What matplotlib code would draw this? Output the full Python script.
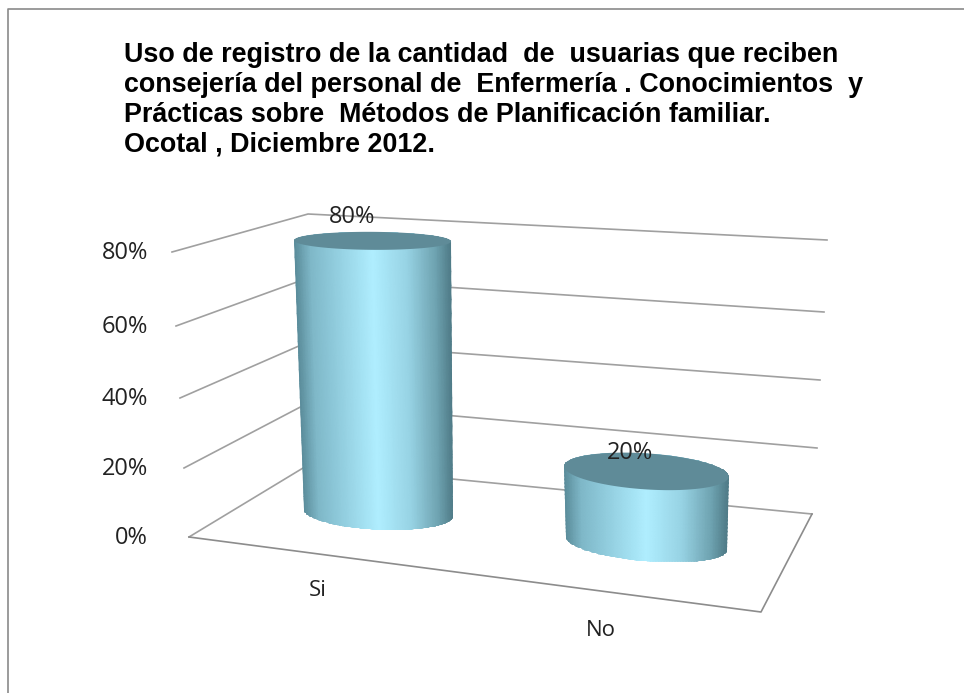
import numpy as np
import matplotlib
matplotlib.use('Agg')
import matplotlib.pyplot as plt
from matplotlib.colors import LinearSegmentedColormap
from matplotlib.patches import Polygon

categories = ['Si', 'No']
values = [80, 20]
tick_values = [0, 20, 40, 60, 80]
tick_labels = ['0%', '20%', '40%', '60%', '80%']
title = ('Uso de registro de la cantidad  de  usuarias que reciben\n'
         'consejería del personal de  Enfermería . Conocimientos  y\n'
         'Prácticas sobre  Métodos de Planificación familiar.\n'
         'Ocotal , Diciembre 2012.')

# wall corners in pixels, one per tick value
left_x = [189, 184, 180, 176, 172]
left_y = [537, 468, 398, 326, 252]
back_x = [308, 308, 308, 308, 308]
back_y = [465, 403, 342, 278, 214]
right_x = [812, 817, 820, 824, 827]
right_y = [514, 448, 380, 312, 240]
front_corner = (761, 612)

# per bar drawing settings (pixels)
base_a = [75, 81]
base_b = [17, 18]
base_tilt = [2.7, 5.0]
top_a = [78.5, 82.5]
top_b = [9, 18]
top_tilt = [0.4, 3.8]
top_shift = [-6, 0]
px_per_unit = [3.4, 3.6]
cat_offset = [(-61, 36), (-45, 38)]
lab_offset = [(-20, -24), (-16, -18)]

wall_color = '#a0a0a0'
text_color = '#222222'
cyl = LinearSegmentedColormap.from_list('cyl', [
    (0.0, '#5a8c9a'), (0.1, '#7fb8c8'), (0.3, '#97d3e4'), (0.5, '#b0eeff'),
    (0.72, '#97d3e4'), (0.9, '#6fa3b1'), (1.0, '#4f7b87')])

fig = plt.figure(figsize=(9.64, 6.93), dpi=100)
ax = fig.add_axes([0, 0, 1, 1])
ax.set_xlim(0, 964)
ax.set_ylim(693, 0)
ax.axis('off')

# outer frame
ax.plot([8, 8, 964], [693, 9, 9], color='#8a8a8a', lw=1.2)

ax.text(124, 100, title, family='Liberation Sans', fontweight='bold', fontsize=19.4,
        color='black', va='center', ha='left', linespacing=1.2)

# walls and floor
for i, v in enumerate(tick_values):
    ax.plot([left_x[i], back_x[i], right_x[i]], [left_y[i], back_y[i], right_y[i]],
            color=wall_color, lw=1.2, zorder=1)
    ax.text(148, left_y[i] + 1, tick_labels[i], family='Open Sans', fontsize=17,
            color=text_color, ha='right', va='center')
ax.plot([left_x[0], front_corner[0], right_x[0]], [left_y[0], front_corner[1], right_y[0]],
        color='#8c8c8c', lw=1.2, zorder=1)


def ellipse(cx, cy, a, b, tilt, t):
    th = np.radians(tilt)
    x = cx + a * np.cos(t) * np.cos(th) - b * np.sin(t) * np.sin(th)
    y = cy + a * np.cos(t) * np.sin(th) + b * np.sin(t) * np.cos(th)
    return x, y


def floor_point(u, v):
    fx = left_x[0] + u * (front_corner[0] - left_x[0])
    fy = left_y[0] + u * (front_corner[1] - left_y[0])
    bx = back_x[0] + u * (right_x[0] - back_x[0])
    by = back_y[0] + u * (right_y[0] - back_y[0])
    return fx + v * (bx - fx), fy + v * (by - fy)


for i, cat in enumerate(categories):
    u = (i + 0.47) / len(categories)
    cx, cy = floor_point(u, 0.535)
    tx = cx + top_shift[i]
    ty = cy - values[i] * px_per_unit[i]

    # body outline
    t1 = np.linspace(0, np.pi, 80)
    t2 = np.linspace(np.pi, 2 * np.pi, 80)
    bx, by = ellipse(cx, cy, base_a[i], base_b[i], base_tilt[i], t1)
    ux, uy = ellipse(tx, ty, top_a[i], top_b[i], top_tilt[i], t2)
    body = Polygon(np.column_stack([np.r_[bx, ux], np.r_[by, uy]]), closed=True,
                   transform=ax.transData, fc='none', ec='none')
    ax.add_patch(body)

    # shading across the cylinder, follows the slanted sides
    s = np.linspace(-0.25, 1.25, 30)
    g = np.linspace(0, 1, 60)
    xl = (tx - top_a[i]) + s * ((cx - base_a[i]) - (tx - top_a[i]))
    xr = (tx + top_a[i]) + s * ((cx + base_a[i]) - (tx + top_a[i]))
    X = xl[:, None] + (xr - xl)[:, None] * g[None, :]
    Y = np.repeat((ty + s * (cy - ty))[:, None], len(g), axis=1)
    C = np.repeat(g[None, :], len(s), axis=0)
    mesh = ax.pcolormesh(X, Y, C, cmap=cyl, shading='gouraud', zorder=2, vmin=0, vmax=1)
    mesh.set_clip_path(body)

    # top cap
    t = np.linspace(0, 2 * np.pi, 160)
    cap_x, cap_y = ellipse(tx, ty, top_a[i], top_b[i], top_tilt[i], t)
    ax.fill(cap_x, cap_y, color='#5f8b98', lw=0, zorder=3)

    ax.text(cx + cat_offset[i][0], floor_point(u, 0)[1] + cat_offset[i][1], cat,
            family='Open Sans', fontsize=16, color=text_color, ha='center', va='center')
    ax.text(tx + lab_offset[i][0], ty + lab_offset[i][1], tick_labels[tick_values.index(values[i])],
            family='Open Sans', fontsize=17, color=text_color, ha='center', va='center', zorder=4)

ax.set_xlim(0, 964)
ax.set_ylim(693, 0)
fig.savefig('out.png', dpi=100)
